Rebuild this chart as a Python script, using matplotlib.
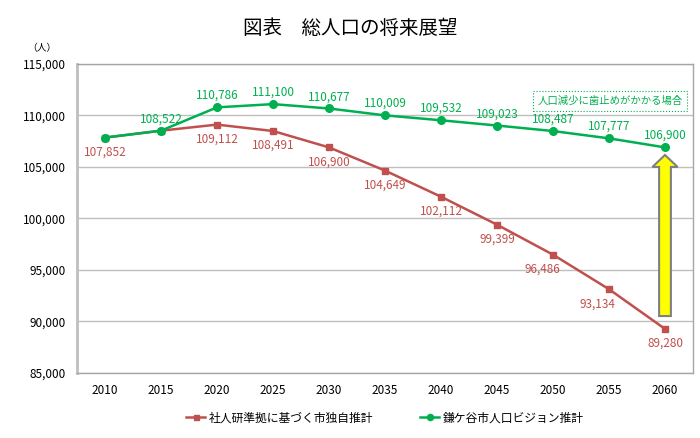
import matplotlib
matplotlib.use("Agg")
import matplotlib.pyplot as plt
from matplotlib.patches import FancyArrow
import numpy as np

plt.rcParams['font.family'] = ['Noto Sans CJK JP', 'DejaVu Sans']

years = ['2010', '2015', '2020', '2025', '2030', '2035', '2040', '2045', '2050', '2055', '2060']
ipss = [107852, 108522, 109112, 108491, 106900, 104649, 102112, 99399, 96486, 93134, 89280]
vision = [107852, 108522, 110786, 111100, 110677, 110009, 109532, 109023, 108487, 107777, 106900]
ipss_name = '社人研準拠に基づく市独自推計'
vision_name = '鎌ケ谷市人口ビジョン推計'

red = '#C0504D'
green = '#00B050'
grid = '#BFBFBF'

fig = plt.figure(figsize=(7, 4.38), dpi=100)
ax = fig.add_axes([0.110, 0.1484, 0.880, 0.7056])
x = np.arange(len(years))

ax.plot(x, ipss, color=red, lw=1.8, marker='s', ms=4.5, label=ipss_name, zorder=3)
ax.plot(x, vision, color=green, lw=1.8, marker='o', ms=5.5, label=vision_name, zorder=4)

# data labels
for i, v in enumerate(ipss):
    if i == 1:
        continue
    dx = -8 if i in (8, 9) else 0
    ax.annotate(f'{v:,}', (i, v), xytext=(dx, -10.5), textcoords='offset points',
                ha='center', va='center', color=red, fontsize=8.5)
for i, v in enumerate(vision):
    if i == 0:
        continue
    ax.annotate(f'{v:,}', (i, v), xytext=(0, 8.5), textcoords='offset points',
                ha='center', va='center', color=green, fontsize=8.5)

ax.set_xlim(-0.5, len(years) - 0.5)
ax.set_ylim(85000, 115000)
ax.set_yticks(range(85000, 115001, 5000))
ax.set_yticklabels([f'{t:,}' for t in range(85000, 115001, 5000)], fontsize=8.5)
ax.set_xticks(x)
ax.set_xticklabels(years, fontsize=8.5)
ax.tick_params(length=0, pad=8)
ax.yaxis.grid(True, color=grid, lw=1)
ax.set_axisbelow(True)
for s in ax.spines.values():
    s.set_color('#A6A6A6')
    s.set_linewidth(1)
ax.spines['left'].set_linewidth(2)
ax.spines['left'].set_color('#BFBFBF')

# yellow arrow
arrow = FancyArrow(10, 90530, 0, 15634, width=0.21, head_width=0.45, head_length=1165,
                   length_includes_head=True, facecolor='#FFFF00', edgecolor='#7F7F7F',
                   lw=1.5, zorder=5)
ax.add_patch(arrow)

ax.text(0.865, 0.88, '人口減少に歯止めがかかる場合', transform=ax.transAxes,
        ha='center', va='center', fontsize=7.5, color=green,
        bbox=dict(boxstyle='square,pad=0.45', fc='white', ec=green, ls=':', lw=0.8))

fig.text(0.5, 0.935, '図表　総人口の将来展望', ha='center', va='center', fontsize=14)
fig.text(0.06, 0.89, '（人）', ha='center', va='center', fontsize=7)

ax.legend(loc='upper center', bbox_to_anchor=(0.5, -0.09), ncol=2, frameon=False,
          fontsize=8.5, handlelength=1.6, handletextpad=0.3, columnspacing=4,
          markerscale=0.8)

fig.savefig('out.png', dpi=100)
